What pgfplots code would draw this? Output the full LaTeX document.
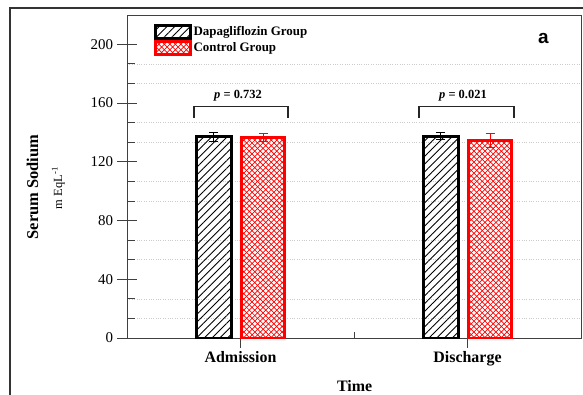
\documentclass[border=0pt]{standalone}
\usepackage{fontspec}
\setmainfont{Liberation Serif}
\newfontfamily\arialfont{Liberation Sans}
\usepackage{pgfplots}
\pgfplotsset{compat=1.18}
\usetikzlibrary{patterns,patterns.meta}

\pgfdeclarepatternformonly{diagcross}{\pgfqpoint{-1pt}{-1pt}}{\pgfqpoint{6.5pt}{6.5pt}}{\pgfqpoint{5.5pt}{5.5pt}}{%
  \pgfsetlinewidth{0.7pt}%
  \pgfpathmoveto{\pgfqpoint{-0.1pt}{-0.1pt}}\pgfpathlineto{\pgfqpoint{5.6pt}{5.6pt}}%
  \pgfpathmoveto{\pgfqpoint{-0.1pt}{5.6pt}}\pgfpathlineto{\pgfqpoint{5.6pt}{-0.1pt}}%
  \pgfusepath{stroke}}

\begin{document}
\begin{tikzpicture}
\useasboundingbox (0,0) rectangle (583bp,-395bp);
\clip (0,0) rectangle (583bp,-395bp);
\draw[black!80, line width=1.3bp] (10bp,-8bp) rectangle (640bp,-440bp);
\begin{axis}[
  at={(127bp,-338bp)}, anchor=south west,
  scale only axis, width=454bp, height=323bp,
  xmin=0.5, xmax=2.5, ymin=0, ymax=220,
  xtick={1,2}, xticklabels={Admission,Discharge},
  extra x ticks={1.5}, extra x tick labels={},
  extra x tick style={major tick length=6bp, tick align=inside},
  ytick={0,40,80,120,160,200},
  minor y tick num=2,
  yminorgrids, minor grid style={dotted, black!20, line width=0.6bp},
  tick align=center, tick pos=left,
  major tick length=19bp, minor tick length=8bp,
  every minor tick/.append style={xshift=4bp},
  major tick style={black!75, line width=0.9bp},
  minor tick style={black!75, line width=0.9bp},
  axis line style={black!75, line width=0.9bp},
  /pgf/number format/assume math mode=true,
  yticklabel style={font=\fontsize{15}{17}\selectfont, xshift=-1bp},
  xticklabel style={font=\bfseries\fontsize{16}{18}\selectfont},
  xlabel={Time},
  xlabel style={font=\bfseries\fontsize{16}{18}\selectfont, at={(axis description cs:0.5015,-0.167)}, anchor=base},
  ylabel={Serum Sodium},
  ylabel style={font=\bfseries\fontsize{16.5}{18}\selectfont, at={(axis description cs:-0.196,0.4675)}, anchor=base},
  legend style={at={(axis description cs:0.0595,0.972)}, anchor=north west, draw=none, fill=none,
    inner sep=0pt, row sep=0pt, font=\bfseries\fontsize{13}{14}\selectfont, nodes={inner sep=1.5bp}},
  legend cell align=left,
  legend image code/.code={\draw[#1,line width=2.8bp] (0bp,-6.5bp) rectangle (35bp,6.5bp);},
]
\addplot[ybar, bar width=0.155, bar shift=0pt, draw=black, line width=2.9bp,
  pattern={Lines[angle=45,distance=5.5pt,line width=0.85pt]}, pattern color=black,
  error bars/.cd, y dir=both, y explicit,
  error bar style={line width=0.9bp, black},
  error mark options={rotate=90, mark size=4.5bp, line width=0.9bp, black}]
coordinates {(0.883,137.1) +- (0,3) (1.883,137.5) +- (0,2.5)};
\addlegendentry{Dapagliflozin Group}
\addplot[ybar, bar width=0.19, bar shift=0pt, draw=red, line width=2.9bp,
  pattern=diagcross, pattern color=red,
  error bars/.cd, y dir=both, y explicit,
  error bar style={line width=0.9bp, red},
  error mark options={rotate=90, mark size=4.5bp, line width=0.9bp, red}]
coordinates {(1.1,136.5) +- (0,2.5) (2.1,134.5) +- (0,4.5)};
\addlegendentry{Control Group}
\draw[black!85, line width=1.3bp] (axis cs:0.795,150) |- (axis cs:1.209,157.5) -- (axis cs:1.209,150);
\draw[black!85, line width=1.3bp] (axis cs:1.786,150) |- (axis cs:2.205,157.5) -- (axis cs:2.205,150);
\node[anchor=base, font=\bfseries\fontsize{12.5}{14}\selectfont] at (axis cs:0.989,163.1) {\textit{p} = 0.732};
\node[anchor=base, font=\bfseries\fontsize{12.5}{14}\selectfont] at (axis cs:1.98,163.1) {\textit{p} = 0.021};
\node[anchor=base, font=\arialfont\bfseries\fontsize{19}{21}\selectfont] at (axis description cs:0.917,0.913) {a};
\end{axis}
\node[rotate=90, anchor=base, font=\fontsize{12.5}{14}\selectfont] at (62bp,-188bp) {m EqL\textsuperscript{-1}};
\end{tikzpicture}
\end{document}
